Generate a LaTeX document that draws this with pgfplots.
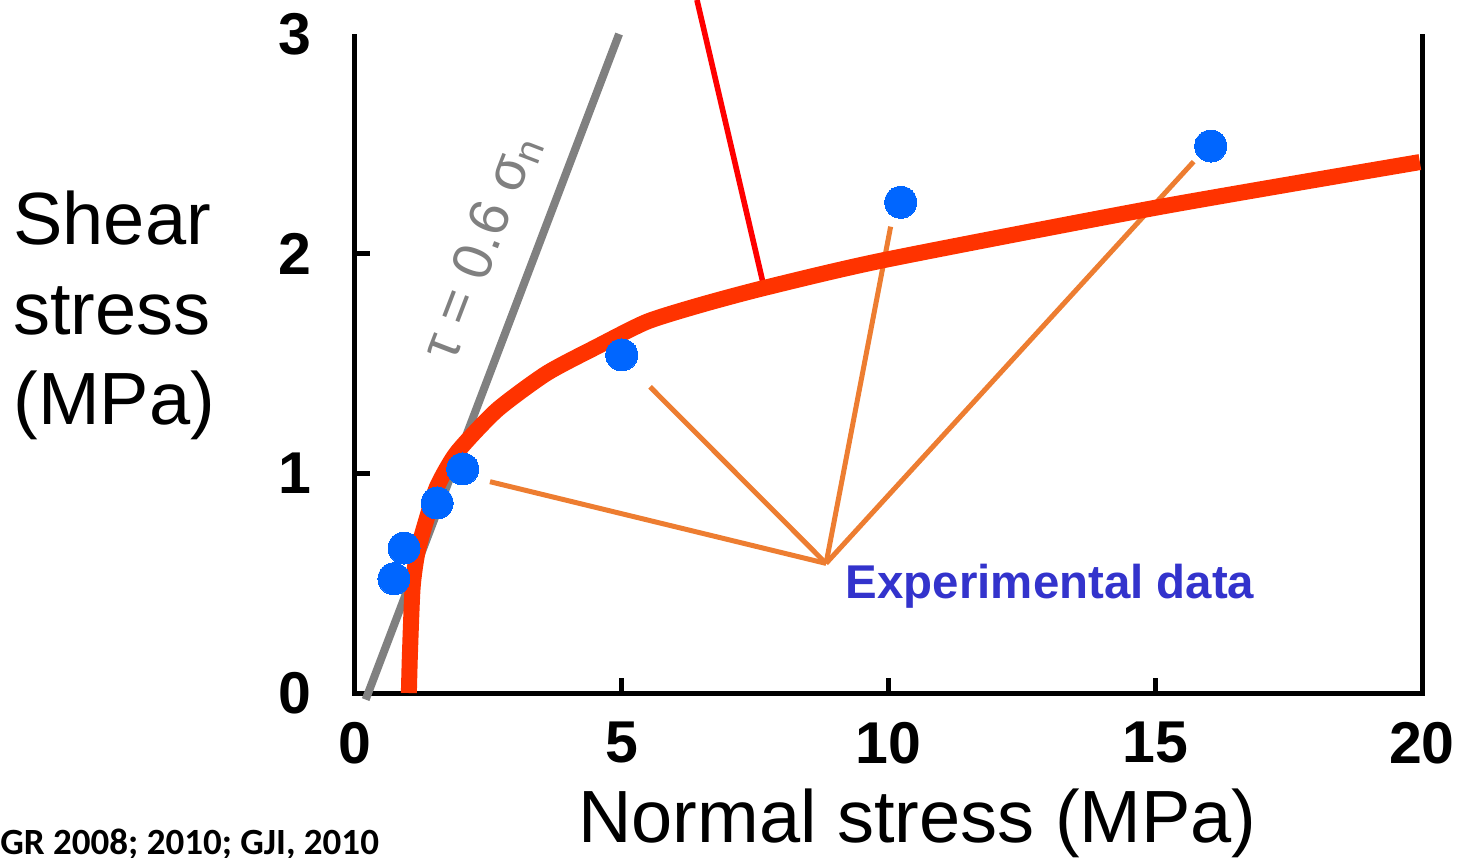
\documentclass[border=0pt]{standalone}
\usepackage{fontspec}
\setmainfont{Liberation Sans}
\newfontfamily\carlito{Carlito}
\usepackage{pgfplots}
\pgfplotsset{compat=1.18}
\definecolor{curvered}{HTML}{FF3300}
\definecolor{linered}{HTML}{FF0000}
\definecolor{linegray}{HTML}{808080}
\definecolor{lineorange}{HTML}{ED7D31}
\definecolor{dotblue}{HTML}{0066FF}
\definecolor{textblue}{HTML}{3333CC}
\begin{document}
\begin{tikzpicture}
\begin{axis}[
  at={(0,0)}, anchor=south west,
  scale only axis, width=533.5pt, height=329.5pt,
  xmin=0, xmax=20, ymin=0, ymax=3,
  axis line style={draw=none},
  xtick={0,5,10,15,20}, ytick={1,2},
  extra y ticks={0,3}, extra y tick style={major tick length=0pt},
  xtick pos=bottom, ytick pos=left, tick align=inside,
  major tick length=7.5pt,
  tick style={black, line width=2.5pt},
  ticklabel style={font=\fontsize{29.5}{29.5}\selectfont\bfseries, inner sep=0pt},
  xticklabel style={anchor=north, yshift=-14.5pt},
  yticklabel style={anchor=east, xshift=-21.5pt},
  /pgf/number format/assume math mode=true,
  clip=false,
]
% axis frame (open on top)
\draw[black, line width=2.5pt, line join=miter] (axis cs:0,3) -- (axis cs:0,0) -- (axis cs:20,0) -- (axis cs:20,3);
% tau = 0.6 sigma_n line
\addplot[linegray, line width=4pt] coordinates {(0.2,-0.03) (4.95,3.0)};
% orange pointer lines
\addplot[lineorange, line width=2.5pt] coordinates {(2.53,0.962) (8.83,0.59)};
\addplot[lineorange, line width=2.5pt] coordinates {(5.53,1.394) (8.83,0.59)};
\addplot[lineorange, line width=2.5pt] coordinates {(10.04,2.123) (8.83,0.59)};
\addplot[lineorange, line width=2.5pt] coordinates {(15.72,2.419) (8.83,0.59)};
% experimental data
\addplot[only marks, mark=*, mark size=8pt, mark options={fill=dotblue, draw=dotblue, line width=0pt}] coordinates {
(0.73,0.52) (0.92,0.66) (1.54,0.865) (2.02,1.02) (5.0,1.539) (10.23,2.234) (16.04,2.49)};
% red pointer line
\addplot[linered, line width=2.8pt] coordinates {(6.41,3.155) (7.67,1.844)};
% model curve
\addplot[curvered, line width=8pt, smooth, tension=0.4] coordinates {
(1.01,0) (1.03,0.18) (1.08,0.48) (1.17,0.64) (1.34,0.79) (1.54,0.94) (1.91,1.095) (2.66,1.288) (3.59,1.455) (4.53,1.576) (5.47,1.690) (6.47,1.766) (7.67,1.844) (9.92,1.971) (15.07,2.212) (19.96,2.417)};
\node[linegray, rotate=69, font=\fontsize{28}{28}\selectfont] at (axis cs:2.38,2.03) {τ = 0.6 σ\textsubscript{n}};
\node[textblue, font=\fontsize{23.7}{23.7}\selectfont\bfseries] at (axis cs:13.03,0.487) {Experimental data};
\end{axis}
\node[anchor=base west, inner sep=0pt, font=\fontsize{37}{37}\selectfont] at (-171pt,224pt) {Shear};
\node[anchor=base west, inner sep=0pt, font=\fontsize{37}{37}\selectfont] at (-171pt,179pt) {stress};
\node[anchor=base west, inner sep=0pt, font=\fontsize{37}{37}\selectfont] at (-171pt,134pt) {(MPa)};
\node[anchor=base, inner sep=0pt, font=\fontsize{37}{37}\selectfont] at (281.25pt,-74.5pt) {Normal stress (MPa)};
\node[anchor=base west, inner sep=0pt, font=\carlito\fontsize{18.5}{18.5}\selectfont\bfseries] at (-177.5pt,-80.5pt) {GR 2008; 2010; GJI, 2010};
\pgfresetboundingbox
\path[use as bounding box] (-177.5pt,-82.5pt) rectangle (554.5pt,346.5pt);
\end{tikzpicture}
\end{document}
